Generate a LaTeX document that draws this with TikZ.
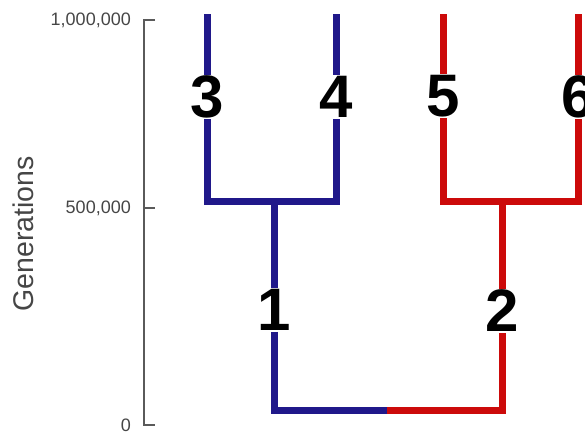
\documentclass[tikz,border=0pt]{standalone}
\usepackage{fontspec}
\setmainfont{Liberation Sans}
\definecolor{treeblue}{RGB}{32,24,138}
\definecolor{treered}{RGB}{204,10,10}
\definecolor{axisgrey}{RGB}{90,90,90}
\definecolor{textgrey}{RGB}{70,70,70}
\begin{document}
\begin{tikzpicture}[x=1pt,y=-1pt,
  blueline/.style={draw=treeblue, line width=7pt, line join=miter},
  redline/.style={draw=treered, line width=7pt, line join=miter},
  lab/.style={font=\bfseries\fontsize{60}{60}\selectfont, inner sep=1pt, text=black},
  axisline/.style={draw=axisgrey, line width=1.8pt, line join=miter},
  ticklab/.style={font=\fontsize{18}{18}\selectfont, text=textgrey, anchor=east, inner sep=0pt}]
\useasboundingbox (0,0) rectangle (585,434);
\clip (0,0) rectangle (585,434);
% axis
\coordinate (a1) at (144,20);
\coordinate (a5) at (144,208);
\coordinate (a0) at (144,425);
\coordinate (e1) at (155,20);
\coordinate (e5) at (155,208);
\coordinate (e0) at (155,425);
\draw[axisline] (e1) -- (a1) -- (a0) -- (e0);
\draw[axisline] (a5) -- (e5);
\node[ticklab] (l1) at (131,20) {1,000,000};
\node[ticklab] (l5) at (131,208) {500,000};
\node[ticklab] (l0) at (131,425) {0};
\node[font=\fontsize{28.5}{28.5}\selectfont, text=textgrey, rotate=90] (gen) at (23,234) {Generations};
% tree coordinates
\coordinate (t3) at (207,14);
\coordinate (t4) at (336,14);
\coordinate (t5) at (443,14);
\coordinate (t6) at (578,14);
\coordinate (c3) at (207,201);
\coordinate (c4) at (336,201);
\coordinate (j1) at (274,201);
\coordinate (c5) at (443,201);
\coordinate (c6) at (578,201);
\coordinate (j2) at (502,201);
\coordinate (b1) at (274,410);
\coordinate (b2) at (502,410);
\coordinate (mid) at (387,410);
% labels
\node[lab] (n3) at (207,97) {3};
\node[lab] (n4) at (336,97) {4};
\node[lab] (n5) at (443,96) {5};
\node[lab] (n6) at (578,97) {6};
\node[lab] (n1) at (274,310) {1};
\node[lab] (n2) at (502,311) {2};
% blue clade
\draw[blueline] (t3) -- (n3);
\draw[blueline] (t4) -- (n4);
\draw[blueline] (n3) -- (c3) -- (c4) -- (n4);
\draw[blueline] (j1) -- (n1);
\draw[blueline] (n1) -- (b1) -- (mid);
% red clade
\draw[redline] (t5) -- (n5);
\draw[redline] (t6) -- (n6);
\draw[redline] (n5) -- (c5) -- (c6) -- (n6);
\draw[redline] (j2) -- (n2);
\draw[redline] (n2) -- (b2) -- (mid);
\end{tikzpicture}
\end{document}
